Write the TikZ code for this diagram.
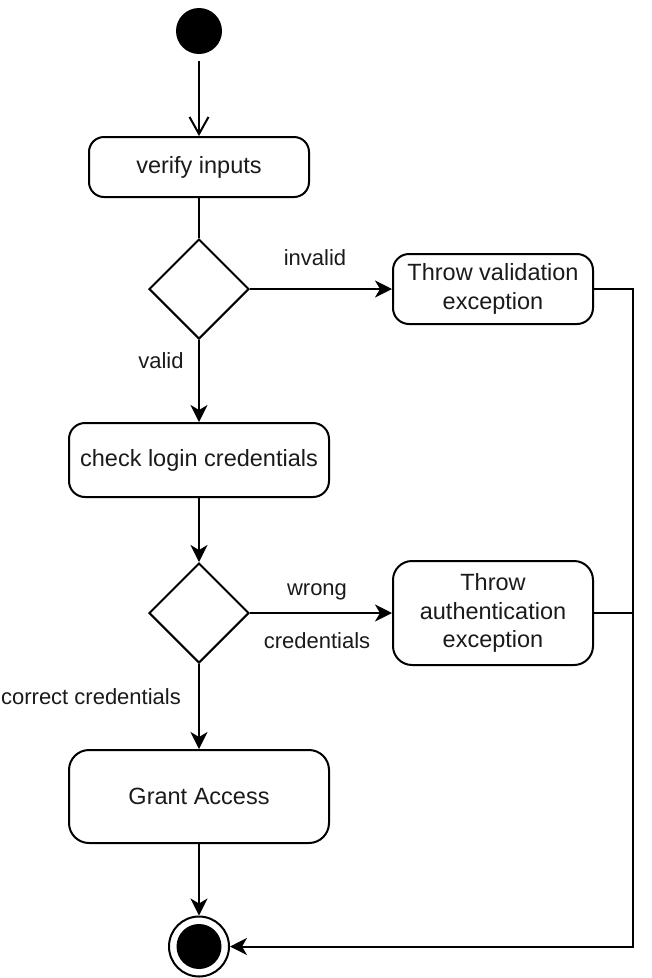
\documentclass[tikz,border=0pt]{standalone}
\usepackage{fontspec}
\setmainfont{Liberation Sans}
\usetikzlibrary{arrows.meta,shapes.geometric,calc}
\definecolor{txt}{HTML}{1A1A1A}
\tikzset{
  every node/.style={text=txt},
  act/.style={draw, line width=2pt, align=center, inner sep=0pt,
    font=\fontsize{23.5}{28.5}\selectfont},
  dec/.style={draw, line width=2pt, diamond, inner sep=0pt, minimum width=100pt, minimum height=100pt, aspect=1},
  conn/.style={line width=2pt, draw=black},
  arr/.style={conn, -{Stealth[length=17pt,width=17pt,inset=5pt]}},
  lbl/.style={inner sep=0pt, anchor=base, font=\fontsize{22}{26}\selectfont},
}
\begin{document}
\begin{tikzpicture}[x=1pt,y=-1pt]
\useasboundingbox (0,0) rectangle (652,978);
\node[circle, fill=black, minimum size=46pt, inner sep=0pt] (start) at (199,31) {};
\node[act, rounded corners=15pt, minimum width=220pt, minimum height=60pt] (verify) at (199,167) {verify inputs};
\node[dec] (d1) at (199,289) {};
\node[act, rounded corners=16pt, minimum width=200pt, minimum height=70pt] (val) at (493,289) {Throw validation\\exception};
\node[act, rounded corners=16pt, minimum width=260pt, minimum height=74pt] (check) at (199,460) {check login credentials};
\node[dec] (d2) at (199,613) {};
\node[act, rounded corners=19pt, minimum width=200pt, minimum height=104pt] (auth) at (493,613) {Throw\\authentication\\exception};
\node[act, rounded corners=20pt, minimum width=260pt, minimum height=93pt] (grant) at (199,796.5) {Grant Access};
\node[circle, draw, line width=2pt, fill=white, minimum size=60pt, inner sep=0pt] (end) at (199,946.5) {};
\node[circle, fill=black, minimum size=45pt, inner sep=0pt] (endin) at (199,946.5) {};
\coordinate (rail) at (633,289);

\draw[conn, shorten <=7pt, -{Straight Barb[length=17pt,width=19pt,line width=2pt]}] (start) -- (verify);
\draw[conn] (verify) -- (d1);
\draw[arr] (d1) -- (val);
\draw[arr] (d1) -- (check);
\draw[arr] (check) -- (d2);
\draw[arr] (d2) -- (auth);
\draw[arr] (d2) -- (grant);
\draw[arr] (grant) -- (end);
\draw[arr] (val.east) -- (rail) |- (end.east);
\draw[conn] (auth.east) -- (auth.east -| rail);

\node[lbl] (linvalid) at (315,265) {invalid};
\node[lbl] (lvalid) at (161,368) {valid};
\node[lbl] (lwrong) at (317,595) {wrong};
\node[lbl] (lcred) at (317,648) {credentials};
\node[lbl] (lcorrect) at (91,704) {correct credentials};
\end{tikzpicture}
\end{document}
